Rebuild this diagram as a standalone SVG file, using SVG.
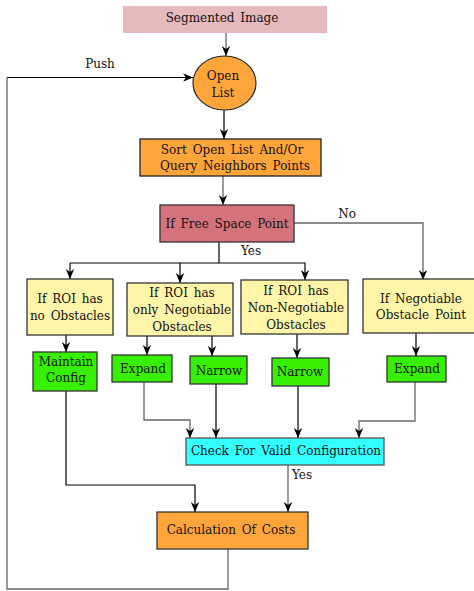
<svg xmlns="http://www.w3.org/2000/svg" width="474" height="591" viewBox="0 0 474 591">
<defs>
<marker id="ar" markerUnits="userSpaceOnUse" markerWidth="10" markerHeight="10" viewBox="0 0 10 10" refX="10" refY="5" orient="auto">
<path d="M0,0.8 L10,5 L0,9.2 L3,5 z" fill="#000"/>
</marker>
<style>
text{font-family:"DejaVu Serif","Liberation Serif",serif;font-size:12px;fill:#111;text-anchor:middle;word-spacing:2px}
.c{fill:none;stroke:#000;stroke-width:1.2}
.g{fill:none;stroke:#666;stroke-width:1.3}
.a{marker-end:url(#ar)}
.y{fill:#fff5a8;stroke:#333;stroke-width:1.3}
.gr{fill:#36f000;stroke:#333;stroke-width:1.3}
.o{fill:#ffa53a;stroke:#333;stroke-width:1.3}
</style>
</defs>
<g id="connectors">
<path class="g a" d="M226,33 V56"/>
<path class="c a" d="M7,77.5 H193"/>
<path class="g" d="M7,78 V589 H228 V549"/>
<path class="c a" d="M224,110 V139"/>
<path class="g a" d="M223,176 V205"/>
<path class="g a" d="M294,223 H423 V280"/>
<path class="c" d="M219,242 V263"/>
<path class="c a" d="M70,263 H305 V280"/>
<path class="c a" d="M70,263 V279"/>
<path class="c a" d="M180,263 V283"/>
<path class="c a" d="M66,335 V352"/>
<path class="c a" d="M147,336 V355"/>
<path class="c a" d="M212,336 V356"/>
<path class="c a" d="M297,334 V358"/>
<path class="c a" d="M416,333 V356"/>
<path class="g a" d="M144,382 V420 H190 V438"/>
<path class="c a" d="M216,384 V438"/>
<path class="c a" d="M298,386 V438"/>
<path class="g a" d="M415,382 V421 H359 V438"/>
<path class="c a" d="M66,391 V485 H195 V512"/>
<path class="g a" d="M288,465 V512"/>
<text x="100" y="68">Push</text>
<text x="347" y="218">No</text>
<text x="251" y="255">Yes</text>
<text x="302" y="479">Yes</text>
</g>
<g id="segmented">
<rect x="123" y="6" width="204" height="27" fill="#e6b9bc"/>
<text x="222" y="22">Segmented Image</text>
</g>
<g id="openlist">
<ellipse cx="224.5" cy="83" rx="31.5" ry="27" fill="#ffa53a" stroke="#222" stroke-width="1.2"/>
<text x="223" y="80">Open</text>
<text x="223" y="97">List</text>
</g>
<g id="sort">
<rect x="140" y="139" width="181" height="37" fill="#ffa53a" stroke="#222" stroke-width="1.3"/>
<text x="232" y="154">Sort Open List And/Or</text>
<text x="235" y="170">Query Neighbors Points</text>
</g>
<g id="freespace">
<rect x="160" y="205" width="134" height="37" fill="#d5737c" stroke="#333" stroke-width="1.3"/>
<text x="227" y="228">If Free Space Point</text>
</g>
<g id="roi-none">
<rect class="y" x="27" y="279" width="86" height="56"/>
<text x="70" y="303">If ROI has</text>
<text x="70" y="320">no Obstacles</text>
</g>
<g id="roi-neg">
<rect class="y" x="127" y="283" width="106" height="53"/>
<text x="182" y="297">If ROI has</text>
<text x="182" y="314">only Negotiable</text>
<text x="182" y="331">Obstacles</text>
</g>
<g id="roi-nonneg">
<rect class="y" x="241" y="280" width="107" height="54"/>
<text x="296" y="295">If ROI has</text>
<text x="296" y="312">Non-Negotiable</text>
<text x="296" y="329">Obstacles</text>
</g>
<g id="neg-point">
<rect class="y" x="363" y="279" width="112" height="54"/>
<text x="421" y="303">If Negotiable</text>
<text x="421" y="319">Obstacle Point</text>
</g>
<g id="maintain">
<rect class="gr" x="33" y="352" width="64" height="39"/>
<text x="66" y="366">Maintain</text>
<text x="66" y="382">Config</text>
</g>
<g id="expand1">
<rect class="gr" x="112" y="355" width="60" height="27"/>
<text x="143" y="373">Expand</text>
</g>
<g id="narrow1">
<rect class="gr" x="190" y="356" width="57" height="28"/>
<text x="219" y="375">Narrow</text>
</g>
<g id="narrow2">
<rect class="gr" x="272" y="358" width="57" height="28"/>
<text x="300" y="376">Narrow</text>
</g>
<g id="expand2">
<rect class="gr" x="387" y="356" width="59" height="26"/>
<text x="417" y="373">Expand</text>
</g>
<g id="check">
<rect x="186" y="438" width="198" height="27" fill="#33ffff" stroke="#555" stroke-width="1.3"/>
<text x="286" y="455">Check For Valid Configuration</text>
</g>
<g id="costs">
<rect class="o" x="157" y="512" width="151" height="37"/>
<text x="231" y="534">Calculation Of Costs</text>
</g>
</svg>
